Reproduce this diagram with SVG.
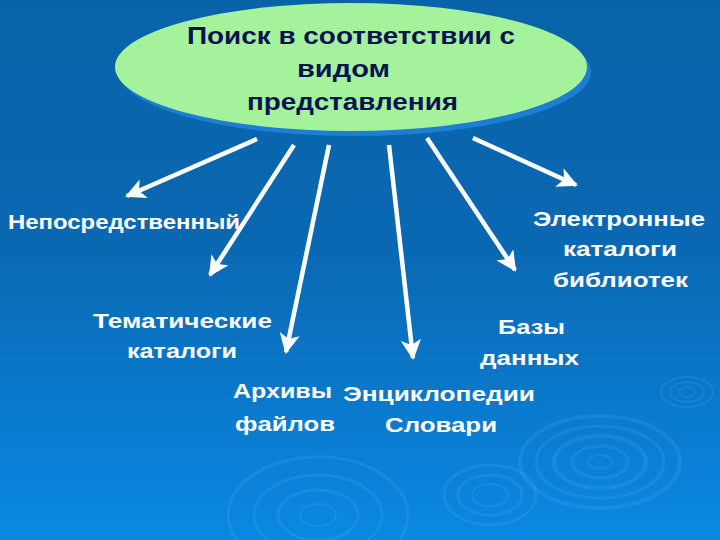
<svg xmlns="http://www.w3.org/2000/svg" width="720" height="540" viewBox="0 0 720 540">
<defs>
<linearGradient id="bg" x1="0" y1="0" x2="0" y2="1">
<stop offset="0" stop-color="#0963a8"/>
<stop offset="0.45" stop-color="#0a68b2"/>
<stop offset="1" stop-color="#0a88e2"/>
</linearGradient>
<marker id="ah" viewBox="0 0 10 10" refX="9" refY="5" markerWidth="4.5" markerHeight="4.5" orient="auto" markerUnits="strokeWidth">
<path d="M0,0 L10,5 L0,10 L2.5,5 Z" fill="#ffffff"/>
</marker>
</defs>
<style>
.lbl{font-family:"Liberation Sans",Arial,sans-serif;font-weight:bold;font-size:21px;fill:#ffffff}
.title{font-family:"Liberation Sans",Arial,sans-serif;font-weight:bold;font-size:23px;fill:#0b1450}
.conn line{stroke:#ffffff;stroke-width:4.5;marker-end:url(#ah)}
.rip ellipse{fill:none;stroke:#9fd4ff;stroke-opacity:0.1}
</style>
<rect width="720" height="540" fill="url(#bg)"/>
<g class="rip">
<ellipse cx="600" cy="462" rx="80" ry="46" stroke-width="4"/>
<ellipse cx="600" cy="462" rx="64" ry="36" stroke-width="3"/>
<ellipse cx="600" cy="462" rx="46" ry="26" stroke-width="4"/>
<ellipse cx="600" cy="462" rx="28" ry="16" stroke-width="3"/>
<ellipse cx="600" cy="462" rx="12" ry="7" stroke-width="2"/>
<ellipse cx="687" cy="392" rx="26" ry="15" stroke-width="2"/>
<ellipse cx="687" cy="392" rx="17" ry="10" stroke-width="2"/>
<ellipse cx="687" cy="392" rx="8" ry="5" stroke-width="2"/>
<ellipse cx="490" cy="495" rx="46" ry="30" stroke-width="3"/>
<ellipse cx="490" cy="495" rx="32" ry="20" stroke-width="3"/>
<ellipse cx="490" cy="495" rx="18" ry="11" stroke-width="2"/>
<ellipse cx="318" cy="515" rx="90" ry="58" stroke-width="3"/>
<ellipse cx="318" cy="515" rx="64" ry="40" stroke-width="3"/>
<ellipse cx="318" cy="515" rx="40" ry="25" stroke-width="3"/>
<ellipse cx="318" cy="515" rx="18" ry="11" stroke-width="2"/>
</g>
<g id="center">
<ellipse cx="355" cy="72" rx="236" ry="64" fill="#1c7fd6"/>
<ellipse cx="351" cy="67" rx="236" ry="64" fill="#a4f29c"/>
<text class="title" x="187" y="44" textLength="328" lengthAdjust="spacingAndGlyphs">Поиск в соответствии с</text>
<text class="title" x="297" y="77" textLength="93" lengthAdjust="spacingAndGlyphs">видом</text>
<text class="title" x="247" y="110" textLength="211" lengthAdjust="spacingAndGlyphs">представления</text>
</g>
<g class="conn">
<line x1="257" y1="139" x2="127" y2="196"/>
<line x1="294" y1="145" x2="210" y2="275"/>
<line x1="329" y1="145" x2="286" y2="352"/>
<line x1="389" y1="145" x2="413" y2="358"/>
<line x1="427" y1="138" x2="515" y2="270"/>
<line x1="473" y1="138" x2="576" y2="185"/>
</g>
<g id="n1"><text class="lbl" x="8" y="229" textLength="232" lengthAdjust="spacingAndGlyphs">Непосредственный</text></g>
<g id="n2"><text class="lbl" x="93" y="328" textLength="179" lengthAdjust="spacingAndGlyphs">Тематические</text><text class="lbl" x="127" y="358" textLength="110" lengthAdjust="spacingAndGlyphs">каталоги</text></g>
<g id="n3"><text class="lbl" x="233" y="398" textLength="99" lengthAdjust="spacingAndGlyphs">Архивы</text><text class="lbl" x="235" y="431" textLength="100" lengthAdjust="spacingAndGlyphs">файлов</text></g>
<g id="n4"><text class="lbl" x="343" y="401" textLength="192" lengthAdjust="spacingAndGlyphs">Энциклопедии</text><text class="lbl" x="385" y="432" textLength="112" lengthAdjust="spacingAndGlyphs">Словари</text></g>
<g id="n5"><text class="lbl" x="498" y="334" textLength="67" lengthAdjust="spacingAndGlyphs">Базы</text><text class="lbl" x="480" y="365" textLength="99" lengthAdjust="spacingAndGlyphs">данных</text></g>
<g id="n6"><text class="lbl" x="533" y="226" textLength="172" lengthAdjust="spacingAndGlyphs">Электронные</text><text class="lbl" x="563" y="256" textLength="114" lengthAdjust="spacingAndGlyphs">каталоги</text><text class="lbl" x="553" y="287" textLength="135" lengthAdjust="spacingAndGlyphs">библиотек</text></g>
</svg>
